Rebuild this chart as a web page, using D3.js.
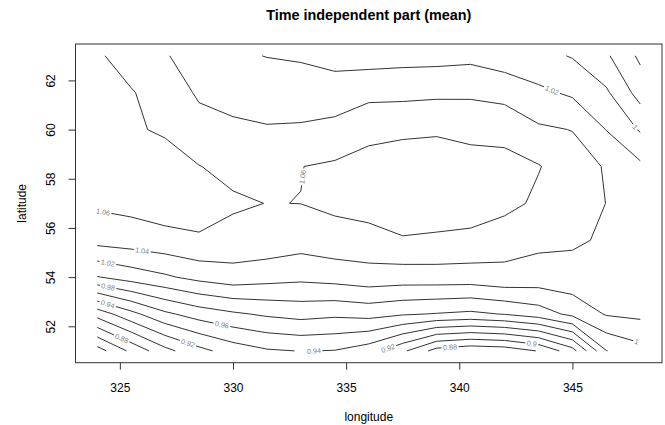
<!DOCTYPE html>
<html><head><meta charset="utf-8">
<script src="https://cdn.jsdelivr.net/npm/d3@7"></script>
<style>
body{margin:0;background:#fff}
text{font-family:"Liberation Sans",Arial,Helvetica,sans-serif}
</style>
</head><body>
<svg id="chart" width="665" height="425"></svg>
<script>
// ---- data ----
const longitudes = [324,325.5,327,328.5,330,331.5,333,334.5,336,337.5,339,340.5,342,343.5,345,346.5,348];
const latitudes = [51,52.5,54,55.5,57,58.5,60,61.5,63];
const zLat51   = [0.831,0.8645,0.894,0.914,0.929,0.9378,0.9405,0.9392,0.929,0.904,0.872,0.865,0.868,0.881,0.912,0.9795,0.993];
const zLat52_5 = [0.908,0.934,0.956,0.969,0.977,0.983,0.987,0.984,0.987,0.982,0.979,0.976,0.981,0.990,1.005,1.0217,1.0246];
const zLat54   = [0.999,1.009,1.0171,1.026,1.0318,1.028,1.025,1.028,1.032,1.0305,1.031,1.031,1.035,1.032,1.0333,1.032,1.030];
const zLat55_5 = [1.047,1.0498,1.0535,1.0578,1.0534,1.0525,1.0485,1.0525,1.053,1.058,1.057,1.0547,1.0472,1.0443,1.0425,1.0378,1.034];
const zLat57   = [1.0633,1.066,1.0702,1.0678,1.0627,1.0597,1.06015,1.0639,1.0679,1.0747,1.0706,1.0708,1.0666,1.056,1.048,1.0398,1.034];
const zLat58_5 = [1.068,1.066,1.0654,1.0605,1.0547,1.05,1.0597,1.0629,1.0727,1.0735,1.0728,1.0686,1.0704,1.0611,1.0489,1.0384,1.024];
const zLat60   = [1.068,1.0615,1.0584,1.0462,1.045,1.0415,1.043,1.045,1.05,1.055,1.057,1.054,1.05,1.043,1.0395,1.0195,0.998];
const zLat61_5 = [1.068,1.0615,1.05,1.0377,1.0307,1.031,1.0272,1.0307,1.0363,1.0353,1.0363,1.0369,1.0353,1.024,1.017,1.003,0.972];
const zLat63   = [1.063,1.05,1.0419,1.028,1.023,1.0195,1.0184,1.0122,1.0104,1.0128,1.0133,1.0149,1.0075,1.006,0.9987,0.983,0.956];
const levels = [0.84,0.86,0.88,0.90,0.92,0.94,0.96,0.98,1.00,1.02,1.04,1.06];
const xTicks = [325,330,335,340,345];
const yTicks = [52,54,56,58,60,62];
const labelLevels = [1.06,1.06,1.04,1.02,1.02,1.00,0.98,0.94,0.96,0.92,0.88,0.94,0.92,0.88,0.90,1.00];
const labelLon = [324.26,333.14,325.98,324.48,344.1,347.85,324.48,324.48,329.51,328.01,325.09,333.54,336.85,339.59,343.21,347.85];
const labelLat = [56.65,58.07,55.02,54.61,61.61,60.15,53.6,52.95,52.06,51.32,51.52,51.04,51.12,51.2,51.32,51.4];

const zRows = [zLat51,zLat52_5,zLat54,zLat55_5,zLat57,zLat58_5,zLat60,zLat61_5,zLat63];

// ---- layout ----
const W = 665, H = 425;
const plot = {left:75.5, right:662, top:44, bottom:362.7};
const x = d3.scaleLinear().domain([323.04,348.96]).range([plot.left,plot.right]);
const y = d3.scaleLinear().domain([50.52,63.48]).range([plot.bottom,plot.top]);

const svg = d3.select("#chart");
svg.append("rect").attr("width",W).attr("height",H).attr("fill","#fff");
const lineG = svg.append("g");
const labelG = svg.append("g");

// ---- marching squares producing contour polylines (no boundary edges) ----
function contourLines(level){
  const nx = longitudes.length, ny = latitudes.length;
  const pts = new Map();
  const segs = [];
  function hKey(i,j){ const k="h"+i+","+j; if(!pts.has(k)){ const a=zRows[j][i], b=zRows[j][i+1], t=(level-a)/(b-a); pts.set(k,[longitudes[i]+t*(longitudes[i+1]-longitudes[i]), latitudes[j]]);} return k; }
  function vKey(i,j){ const k="v"+i+","+j; if(!pts.has(k)){ const a=zRows[j][i], b=zRows[j+1][i], t=(level-a)/(b-a); pts.set(k,[longitudes[i], latitudes[j]+t*(latitudes[j+1]-latitudes[j])]);} return k; }
  for(let j=0;j<ny-1;j++){
    for(let i=0;i<nx-1;i++){
      const vbl=zRows[j][i], vbr=zRows[j][i+1], vtr=zRows[j+1][i+1], vtl=zRows[j+1][i];
      const bl=vbl>=level, br=vbr>=level, tr=vtr>=level, tl=vtl>=level;
      const B = bl!==br ? hKey(i,j) : null;
      const R = br!==tr ? vKey(i+1,j) : null;
      const T = tl!==tr ? hKey(i,j+1) : null;
      const L = bl!==tl ? vKey(i,j) : null;
      const c = [B,R,T,L].filter(k=>k!==null);
      if(c.length===2) segs.push(c);
      else if(c.length===4){
        const center = (vbl+vbr+vtr+vtl)/4 >= level;
        if(center===bl){ segs.push([B,R]); segs.push([L,T]); }
        else { segs.push([B,L]); segs.push([R,T]); }
      }
    }
  }
  const adj = new Map();
  segs.forEach((s,idx)=>{ s.forEach(k=>{ if(!adj.has(k)) adj.set(k,[]); adj.get(k).push(idx); }); });
  const used = new Array(segs.length).fill(false);
  function trace(k){
    const keys=[k]; let cur=k;
    while(true){
      const nxt = adj.get(cur).find(si=>!used[si]);
      if(nxt===undefined) break;
      used[nxt]=true;
      const s=segs[nxt]; const other = s[0]===cur? s[1] : s[0];
      keys.push(other); cur=other;
    }
    return keys;
  }
  const lines=[];
  for(const [k,list] of adj){ if(list.length===1 && !used[list[0]]) lines.push(trace(k)); }
  segs.forEach((s,idx)=>{ if(!used[idx]) lines.push(trace(s[0])); });
  return lines.map(keys=>keys.map(k=>{ const p=pts.get(k); return [x(p[0]), y(p[1])]; }));
}

const allLines = [];
levels.forEach(lv=>{ contourLines(lv).forEach(pl=>{ allLines.push({level:lv, pts:pl, gaps:[]}); }); });

function cumLen(pts){ const c=[0]; for(let i=1;i<pts.length;i++){ c.push(c[i-1]+Math.hypot(pts[i][0]-pts[i-1][0], pts[i][1]-pts[i-1][1])); } return c; }
allLines.forEach(l=>{ l.cum = cumLen(l.pts); l.total = l.cum[l.cum.length-1]; });

const fmt = v => String(+v.toFixed(2));
const labelFont = 7.2;

labelLevels.forEach((lv,li)=>{
  const px = x(labelLon[li]), py = y(labelLat[li]);
  let best = null;
  allLines.forEach((l,idx)=>{
    if(Math.abs(l.level-lv)>1e-9) return;
    for(let i=1;i<l.pts.length;i++){
      const a=l.pts[i-1], b=l.pts[i];
      const dx=b[0]-a[0], dy=b[1]-a[1], L2=dx*dx+dy*dy;
      let t = L2>0 ? ((px-a[0])*dx+(py-a[1])*dy)/L2 : 0;
      t = Math.max(0,Math.min(1,t));
      const qx=a[0]+t*dx, qy=a[1]+t*dy;
      const d=Math.hypot(px-qx,py-qy);
      if(!best || d<best.d) best={d, idx, s:l.cum[i-1]+t*Math.sqrt(L2), qx, qy, ang:Math.atan2(dy,dx)*180/Math.PI};
    }
  });
  if(!best) return;
  let ang = best.ang;
  if(ang>90) ang-=180; if(ang<=-90) ang+=180;
  const t = labelG.append("text")
    .attr("transform",`translate(${best.qx},${best.qy}) rotate(${ang})`)
    .attr("text-anchor","middle").attr("dy","0.35em")
    .attr("font-size",labelFont).attr("fill","#808080")
    .text(fmt(lv));
  const w = t.node().getComputedTextLength();
  const l = allLines[best.idx];
  const half = w/2 + 1.5;
  let s0 = best.s - half, s1 = best.s + half;
  const closed = Math.hypot(l.pts[0][0]-l.pts[l.pts.length-1][0], l.pts[0][1]-l.pts[l.pts.length-1][1])<1e-6;
  if(closed && s0<0){ l.gaps.push([l.total+s0,l.total]); s0=0; }
  if(closed && s1>l.total){ l.gaps.push([0,s1-l.total]); s1=l.total; }
  l.gaps.push([Math.max(0,s0), Math.min(l.total,s1)]);
});

function pointAt(l,s){
  for(let i=1;i<l.pts.length;i++){
    if(l.cum[i]>=s){ const seg=l.cum[i]-l.cum[i-1]; const t= seg>0?(s-l.cum[i-1])/seg:0; const a=l.pts[i-1], b=l.pts[i]; return [a[0]+t*(b[0]-a[0]), a[1]+t*(b[1]-a[1])]; }
  }
  return l.pts[l.pts.length-1];
}
function pieces(l){
  const gaps = l.gaps.slice().sort((a,b)=>a[0]-b[0]);
  const keep=[]; let cur=0;
  gaps.forEach(g=>{ if(g[0]>cur) keep.push([cur,g[0]]); cur=Math.max(cur,g[1]); });
  if(cur<l.total) keep.push([cur,l.total]);
  return keep.filter(k=>k[1]-k[0]>0.3).map(([a,b])=>{
    const out=[pointAt(l,a)];
    for(let i=0;i<l.pts.length;i++){ if(l.cum[i]>a && l.cum[i]<b) out.push(l.pts[i]); }
    out.push(pointAt(l,b));
    return out;
  });
}

const line = d3.line();
allLines.forEach(l=>{
  pieces(l).forEach(p=>{
    lineG.append("path").attr("d",line(p)).attr("fill","none")
      .attr("stroke","#333").attr("stroke-width",1).attr("stroke-linejoin","round");
  });
});

// ---- box ----
svg.append("rect").attr("x",plot.left).attr("y",plot.top)
  .attr("width",plot.right-plot.left).attr("height",plot.bottom-plot.top)
  .attr("fill","none").attr("stroke","#333").attr("stroke-width",1);

// ---- axes ----
const gx = svg.append("g").attr("transform",`translate(0,${plot.bottom})`)
  .call(d3.axisBottom(x).tickValues(xTicks).tickSize(7).tickSizeOuter(0).tickPadding(14).tickFormat(d3.format("d")));
gx.select(".domain").remove();
gx.selectAll(".tick line").attr("stroke","#333");
gx.selectAll(".tick text").attr("font-size",12).attr("fill","#000").attr("font-family",'"Liberation Sans",Arial,sans-serif');

const gy = svg.append("g").attr("transform",`translate(${plot.left},0)`)
  .call(d3.axisLeft(y).tickValues(yTicks).tickSize(7).tickSizeOuter(0).tickFormat(d3.format("d")));
gy.select(".domain").remove();
gy.selectAll(".tick line").attr("stroke","#333");
gy.selectAll(".tick text").attr("font-size",12).attr("fill","#000").attr("font-family",'"Liberation Sans",Arial,sans-serif')
  .attr("x",0).attr("y",-24.3).attr("dy","0.35em").attr("text-anchor","middle").attr("transform","rotate(-90)");

// ---- titles ----
const cx = (plot.left+plot.right)/2, cy=(plot.top+plot.bottom)/2;
svg.append("text").attr("x",cx).attr("y",15).attr("dy","0.35em").attr("text-anchor","middle")
  .attr("font-size",14.4).attr("font-weight","bold").text("Time independent part (mean)");
svg.append("text").attr("x",cx).attr("y",417).attr("dy","0.35em").attr("text-anchor","middle")
  .attr("font-size",12).text("longitude");
svg.append("text").attr("transform",`translate(21.7,${cy}) rotate(-90)`).attr("dy","0.35em").attr("text-anchor","middle")
  .attr("font-size",12).text("latitude");
</script>
</body></html>
